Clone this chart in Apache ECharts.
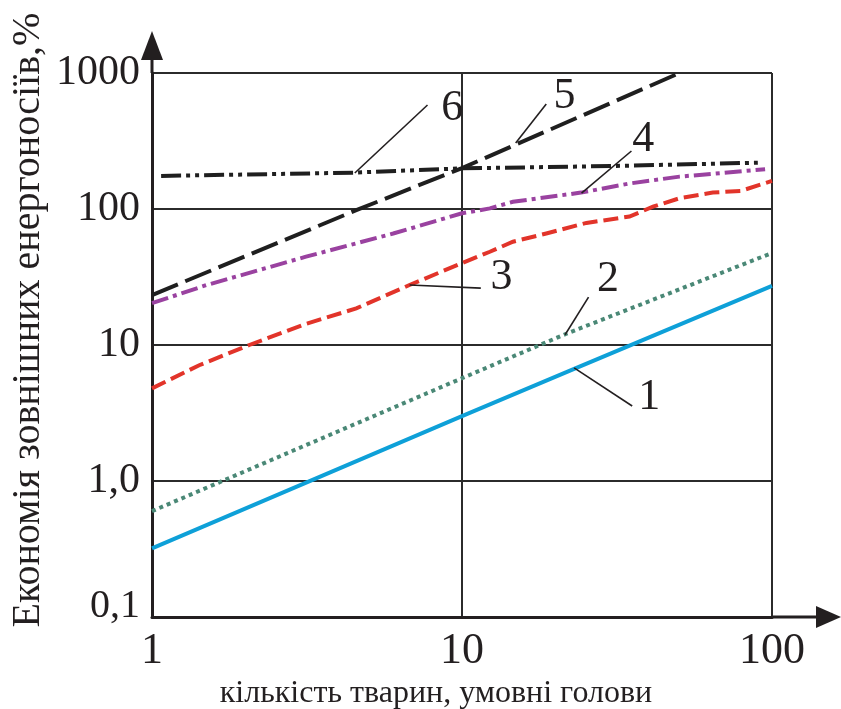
<!DOCTYPE html>
<html>
<head>
<meta charset="utf-8">
<script src="https://cdn.jsdelivr.net/npm/echarts@6/dist/echarts.min.js"></script>
<style>
html,body{margin:0;padding:0;background:#fff;}
#c{width:841px;height:709px;}
</style>
</head>
<body>
<div id="c"></div>
<script>
// ---- data (x = кількість тварин, y = економія, %) ----
const line1 = [[1, 0.32], [10, 3.0], [23.1, 6.7], [100, 27.2]];
const line2 = [[1, 0.6], [10, 5.7], [21.7, 12.1], [100, 47.5]];
const line3 = [[1, 4.8], [1.42, 7.1], [2.06, 10], [3.14, 14.3], [4.56, 18.6], [6.77, 27.6], [10, 40], [12.3, 48.5], [14.6, 57.5], [18.7, 66], [25.2, 79], [34.7, 88], [41.3, 104], [50.3, 120], [64.4, 132], [79.5, 136], [100, 161]];
const line4 = [[1, 20.3], [1.5, 27.6], [3.14, 44.6], [6, 66], [10, 93], [12.3, 101], [14.6, 113], [24.2, 132], [34.7, 154], [50.3, 173], [95, 196]];
const line5 = [[1, 23.3], [4.56, 98], [10, 200], [50.3, 1000]];
const line6 = [[1.07, 175], [4.46, 185], [10, 199], [30.6, 207], [90, 219]];

const curveNames = ['1', '2', '3', '4', '5', '6'];
// annotation labels: text position and leader lines (data coords)
const labelPos = [[40.2, 4.15], [29.6, 30.1], [13.4, 31.6], [38.4, 322], [21.4, 678], [9.31, 553]];
const leaders = [
  [[23.0, 6.78], [35.4, 3.56]],
  [[21.5, 11.9], [25.6, 22.5]],
  [[6.78, 27.6], [11.5, 26.2]],
  [[24.3, 131], [35.2, 267]],
  [[14.9, 306], [18.7, 592]],
  [[4.51, 184], [7.74, 582]]
];

const xTickLabels = {0: '1', 1: '10', 2: '100'};
const yTickLabels = {'-1': '0,1', 0: '1,0', 1: '10', 2: '100', 3: '1000'};
const xTitle = 'кількість тварин, умовні голови';
const yTitle = 'Економія зовнішних енергоносіїв,%';

// ---- layout ----
const W = 841, H = 709;
const G = {left: 152, right: 69, top: 73, bottom: 92};
const x0 = G.left, y0 = H - G.bottom, x1 = W - G.right, yTop = G.top;
const serif = '"Liberation Serif", "Times New Roman", serif';
const ink = '#231f20';

const chart = echarts.init(document.getElementById('c'), null, {renderer: 'canvas'});

const styles = [
  {color: '#0ea0d8', type: 'solid'},
  {color: '#4a8876', type: [4, 4]},
  {color: '#e2342a', type: [15, 6]},
  {color: '#9a42a0', type: [17, 5, 4, 5]},
  {color: '#1f1f1f', type: [28, 8]},
  {color: '#1f1f1f', type: [20, 5, 4, 5, 4, 5]}
];
const lines = [line1, line2, line3, line4, line5, line6];

const series = [];
lines.forEach((d, i) => {
  series.push({
    type: 'line', name: curveNames[i], data: d, showSymbol: false, symbol: 'none',
    silent: true, z: 3,
    lineStyle: {color: styles[i].color, width: 4, type: styles[i].type, cap: 'butt', join: 'miter'}
  });
});
leaders.forEach((d) => {
  series.push({
    type: 'line', data: d, showSymbol: false, symbol: 'none', silent: true, z: 4,
    lineStyle: {color: ink, width: 1.6, type: 'solid'}
  });
});
series.push({
  type: 'scatter', silent: true, z: 5, symbolSize: 0, itemStyle: {color: ink, opacity: 1},
  data: labelPos.map((p, i) => ({value: p, name: curveNames[i]})),
  label: {show: true, position: 'inside', formatter: p => p.name, color: ink, opacity: 1,
    textBorderWidth: 0, textBorderColor: 'transparent',
    fontFamily: serif, fontSize: 44}
});

const option = {
  animation: false,
  backgroundColor: '#fff',
  grid: {left: G.left, right: G.right, top: G.top, bottom: G.bottom, containLabel: false},
  xAxis: {
    type: 'log', logBase: 10, min: 1, max: 100,
    axisLine: {show: true, onZero: false, lineStyle: {color: ink, width: 3}},
    axisTick: {show: false},
    splitLine: {show: true, lineStyle: {color: '#2b2b2b', width: 2}},
    axisLabel: {
      margin: 12, color: ink, fontFamily: serif, fontSize: 44,
      formatter: v => xTickLabels[Math.round(Math.log10(v))] || ''
    }
  },
  yAxis: {
    type: 'log', logBase: 10, min: 0.1, max: 1000,
    axisLine: {show: true, onZero: false, lineStyle: {color: ink, width: 3}},
    axisTick: {show: false},
    splitLine: {show: true, lineStyle: {color: '#2b2b2b', width: 2}},
    axisLabel: {
      margin: 12, color: ink, fontFamily: serif, fontSize: 42,
      formatter: v => {
        const k = Math.round(Math.log10(v));
        const t = yTickLabels[k] || '';
        return k === -1 ? '{lo|' + t + '}' : t;
      },
      rich: {lo: {fontFamily: serif, fontSize: 40, color: ink, padding: [0, 0, 22, 0]}}
    }
  },
  graphic: [
    // axis extensions and arrowheads
    {type: 'line', silent: true, shape: {x1: x0, y1: yTop, x2: x0, y2: 50}, style: {stroke: ink, lineWidth: 3}},
    {type: 'polygon', silent: true, shape: {points: [[x0, 31], [x0 - 11, 60], [x0 + 11, 60]]}, style: {fill: ink}},
    {type: 'line', silent: true, shape: {x1: x1, y1: y0, x2: 825, y2: y0}, style: {stroke: ink, lineWidth: 3}},
    {type: 'polygon', silent: true, shape: {points: [[841, y0], [816, y0 - 11], [816, y0 + 11]]}, style: {fill: ink}},
    // axis titles
    {type: 'text', silent: true, x: 436, y: 694,
      style: {text: xTitle, font: '32px ' + serif, fill: ink, textAlign: 'center', textVerticalAlign: 'middle'}},
    {type: 'text', silent: true, x: 28, y: 320, rotation: Math.PI / 2,
      style: {text: yTitle, font: '40px ' + serif, fill: ink, textAlign: 'center', textVerticalAlign: 'middle'}}
  ],
  series: series
};
chart.setOption(option);
</script>
</body>
</html>
